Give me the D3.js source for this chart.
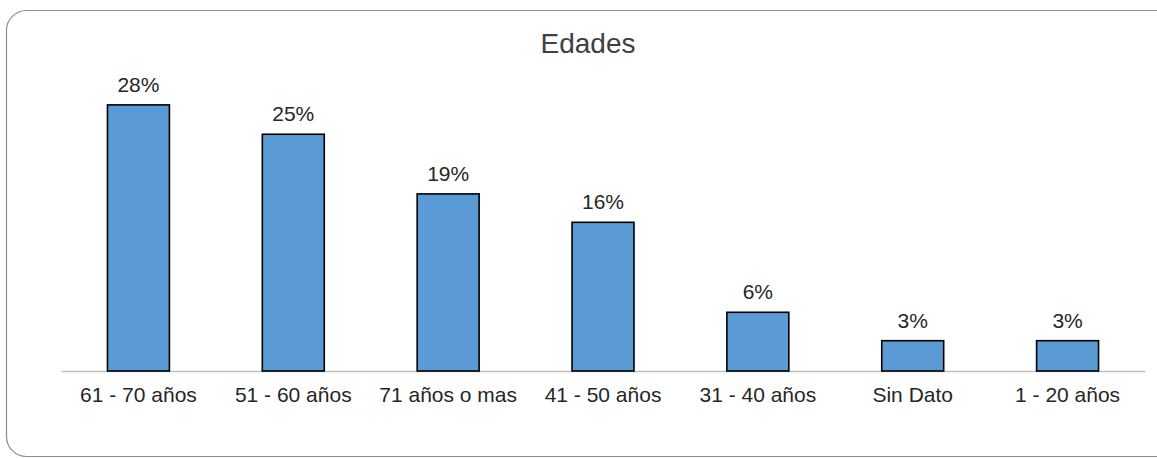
<!DOCTYPE html>
<html>
<head>
<meta charset="utf-8">
<script src="https://cdn.jsdelivr.net/npm/d3@7"></script>
<style>
  html, body { margin: 0; padding: 0; background: #ffffff; }
  svg { display: block; }
  text { font-family: "Liberation Sans", Arial, sans-serif; }
</style>
</head>
<body>
<svg id="chart" width="1157" height="459"></svg>
<script>
const title = "Edades";
const categories = ["61 - 70 años", "51 - 60 años", "71 años o mas", "41 - 50 años", "31 - 40 años", "Sin Dato", "1 - 20 años"];
const values = [28.1, 25.0, 18.7, 15.7, 6.2, 3.2, 3.2];
const valueLabels = ["28%", "25%", "19%", "16%", "6%", "3%", "3%"];

const svg = d3.select("#chart");

// outer rounded frame
svg.append("rect")
  .attr("x", 6.5).attr("y", 10.5)
  .attr("width", 1170).attr("height", 446)
  .attr("rx", 20).attr("ry", 20)
  .attr("fill", "#ffffff")
  .attr("stroke", "#8c8c8c")
  .attr("stroke-width", 1.2);

const x = d3.scaleBand()
  .domain(categories)
  .range([61, 1145])
  .paddingInner(0.6)
  .paddingOuter(0.3);

const y = d3.scaleLinear()
  .domain([0, 30])
  .range([371, 371 - 30 * 9.47]);

// title
svg.append("text")
  .attr("x", 588).attr("y", 53)
  .attr("text-anchor", "middle")
  .attr("font-size", 28)
  .attr("fill", "#404040")
  .text(title);

// baseline axis
const xAxis = d3.axisBottom(x).tickSize(0).tickPadding(16);
const axisG = svg.append("g")
  .attr("transform", `translate(0,${y(0)})`)
  .attr("font-size", 21)
  .call(xAxis);
axisG.attr("font-size", null).attr("font-family", null);
axisG.select(".domain")
  .attr("stroke", "#bfbfbf")
  .attr("stroke-width", 1.3);
axisG.selectAll(".tick text")
  .style("font-size", "21px")
  .style("font-family", "\"Liberation Sans\", Arial, sans-serif")
  .attr("fill", "#262626");

// bars
svg.selectAll("rect.bar")
  .data(values)
  .join("rect")
  .attr("class", "bar")
  .attr("x", (d, i) => x(categories[i]))
  .attr("y", d => y(d))
  .attr("width", x.bandwidth())
  .attr("height", d => y(0) - y(d))
  .attr("fill", "#5b9bd5")
  .attr("stroke", "#000000")
  .attr("stroke-width", 1.6);

// value labels
svg.selectAll("text.vlabel")
  .data(values)
  .join("text")
  .attr("class", "vlabel")
  .attr("x", (d, i) => x(categories[i]) + x.bandwidth() / 2)
  .attr("y", d => y(d) - 13)
  .attr("text-anchor", "middle")
  .style("font-size", "21px")
  .attr("fill", "#262626")
  .text((d, i) => valueLabels[i]);
</script>
</body>
</html>
